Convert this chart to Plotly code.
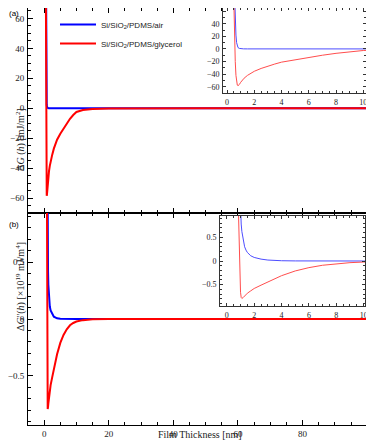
import plotly.graph_objects as go

# film thickness h [nm] and free energy dG(h) [mJ/m^2]
h_air = [0.5, 0.55, 0.6, 0.65, 0.7, 0.75, 0.8, 0.9, 1.0, 1.2, 1.5, 2, 3, 5, 10, 20, 50, 100]
g_air = [120, 80, 45, 22, 10, 4.5, 2.2, 0.8, 0.35, 0.12, 0.04, 0.01, 0.003, 0, 0, 0, 0, 0]

h_gly = [0.45, 0.5, 0.55, 0.6, 0.65, 0.7, 0.75, 0.8, 0.85, 0.9, 1.0, 1.1, 1.25, 1.5, 1.75,
         2, 2.5, 3, 3.5, 4, 5, 6, 7, 8, 9, 10, 12, 15, 20, 30, 50, 100]
g_gly = [120, 60, 15, -20, -42, -53, -57.5, -58.5, -58, -56.5, -53, -50, -46.5, -42, -38.5,
         -35.5, -31, -27, -24, -21, -17, -13.5, -10, -7, -4.5, -2.5, -1.2, -0.5, -0.15, 0, 0, 0]

# second derivative dG''(h) [x10^19 mJ/m^4]
h_air2 = [0.9, 0.95, 1.0, 1.05, 1.1, 1.2, 1.3, 1.4, 1.5, 1.75, 2, 2.5, 3, 4, 5, 10, 100]
d_air = [2.0, 1.4, 1.0, 0.78, 0.62, 0.42, 0.3, 0.23, 0.18, 0.11, 0.075, 0.04, 0.02, 0.006, 0.002, 0, 0]

h_gly2 = [0.8, 0.85, 0.9, 0.95, 1.0, 1.05, 1.1, 1.2, 1.3, 1.4, 1.5, 1.75, 2, 2.5, 3, 3.5, 4,
          5, 6, 7, 8, 9, 10, 12, 15, 20, 100]
d_gly = [1.6, 0.9, 0.2, -0.35, -0.66, -0.77, -0.79, -0.77, -0.74, -0.71, -0.68, -0.63, -0.58,
         -0.51, -0.44, -0.37, -0.31, -0.21, -0.14, -0.09, -0.055, -0.035, -0.022, -0.01, -0.003, 0, 0]

names = ["Si/SiO<sub>2</sub>/PDMS/air", "Si/SiO<sub>2</sub>/PDMS/glycerol"]

# page body adds an 8px margin, so the figure is 8px smaller and shifted
OFF = 8
W, H = 374 - OFF, 446 - OFF
def px(x): return (x - OFF) / W
def py(y): return 1 - (y - OFF) / H

serif = "Liberation Serif"
fig = go.Figure()

# main panels
fig.add_trace(go.Scatter(x=h_air, y=g_air, mode="lines", line=dict(color="blue", width=2),
                         name=names[0], xaxis="x", yaxis="y"))
fig.add_trace(go.Scatter(x=h_gly, y=g_gly, mode="lines", line=dict(color="red", width=2),
                         name=names[1], xaxis="x", yaxis="y"))
fig.add_trace(go.Scatter(x=h_air2, y=d_air, mode="lines", line=dict(color="blue", width=2),
                         showlegend=False, xaxis="x2", yaxis="y2"))
fig.add_trace(go.Scatter(x=h_gly2, y=d_gly, mode="lines", line=dict(color="red", width=2),
                         showlegend=False, xaxis="x2", yaxis="y2"))
# insets
fig.add_trace(go.Scatter(x=h_air, y=g_air, mode="lines", line=dict(color="#4d4dff", width=1),
                         showlegend=False, xaxis="x3", yaxis="y3"))
fig.add_trace(go.Scatter(x=h_gly, y=g_gly, mode="lines", line=dict(color="#ff4d4d", width=1),
                         showlegend=False, xaxis="x3", yaxis="y3"))
fig.add_trace(go.Scatter(x=h_air2, y=d_air, mode="lines", line=dict(color="#4d4dff", width=1),
                         showlegend=False, xaxis="x4", yaxis="y4"))
fig.add_trace(go.Scatter(x=h_gly2, y=d_gly, mode="lines", line=dict(color="#ff4d4d", width=1),
                         showlegend=False, xaxis="x4", yaxis="y4"))

def ax(dom, rng, anchor, dtick, mdtick, lab=True, size=9, tl=5, color="black", so=0):
    return dict(domain=dom, range=rng, anchor=anchor, dtick=dtick, tick0=0, automargin=False,
                showline=True, linecolor=color, linewidth=1, mirror="allticks",
                ticks="inside", ticklen=tl, tickcolor=color, tickwidth=1,
                minor=dict(dtick=mdtick, ticks="inside", ticklen=tl * 0.55, tickcolor=color),
                showgrid=False, zeroline=False, showticklabels=lab,
                tickfont=dict(family=serif, size=size, color="#222"), ticklabelstandoff=so)

mx = [px(28), px(372)]
fig.update_layout(
    xaxis=ax(mx, [-5, 101.5], "y", 20, 5, lab=False),
    yaxis=ax([py(213), py(8)], [-70, 67], "x", 20, 5, so=1),
    xaxis2=ax(mx, [-5, 101.5], "y2", 20, 5),
    yaxis2=ax([py(425), py(213)], [-0.93, 0.93], "x2", 0.5, 0.1, so=1),
    xaxis3=ax([px(223), px(366)], [-0.3, 10.2], "y3", 2, 0.5, size=8, tl=3, color="#333", so=1),
    yaxis3=ax([py(93), py(8)], [-70, 65], "x3", 20, 10, size=8, tl=3, color="#333", so=1),
    xaxis4=ax([px(220), px(365)], [-0.5, 10.1], "y4", 2, 0.5, size=8, tl=3, color="#333", so=1),
    yaxis4=ax([py(306), py(216)], [-0.95, 0.95], "x4", 0.5, 0.1, size=8, tl=3, color="#333", so=1),
)

annotations = [
    dict(text="(a)", x=0, y=1, yanchor="top"),
    dict(text="(b)", x=0, y=py(224), yanchor="middle"),
]
annotations = [dict(xref="paper", yref="paper", showarrow=False, xanchor="left", borderpad=0,
                    font=dict(family="Liberation Sans", size=8, color="black"), **a) for a in annotations]
annotations += [
    dict(text="Film Thickness [nm]", x=px(200), y=py(442), xref="paper", yref="paper", showarrow=False,
         font=dict(family=serif, size=10, color="#222")),
    dict(text="Δ<i>G</i> (<i>h</i>) [mJ/m<sup>2</sup>]", x=px(12), y=py(106), textangle=-90,
         xref="paper", yref="paper", showarrow=False, font=dict(family=serif, size=10, color="#222")),
    dict(text="Δ<i>G</i>''(<i>h</i>) [×10<sup>19</sup> mJ/m<sup>4</sup>]", x=px(12), y=py(333), textangle=-90,
         xref="paper", yref="paper", showarrow=False, font=dict(family=serif, size=10, color="#222")),
]

fig.update_layout(
    width=W, height=H, margin=dict(l=0, r=0, t=0, b=0, autoexpand=False),
    paper_bgcolor="white", plot_bgcolor="white",
    annotations=annotations,
    legend=dict(x=px(55), y=py(10), xanchor="left", yanchor="top", bgcolor="rgba(0,0,0,0)",
                font=dict(family="Liberation Sans", size=8, color="#222"), itemwidth=36),
    showlegend=True,
)

fig.write_html("out.html")
